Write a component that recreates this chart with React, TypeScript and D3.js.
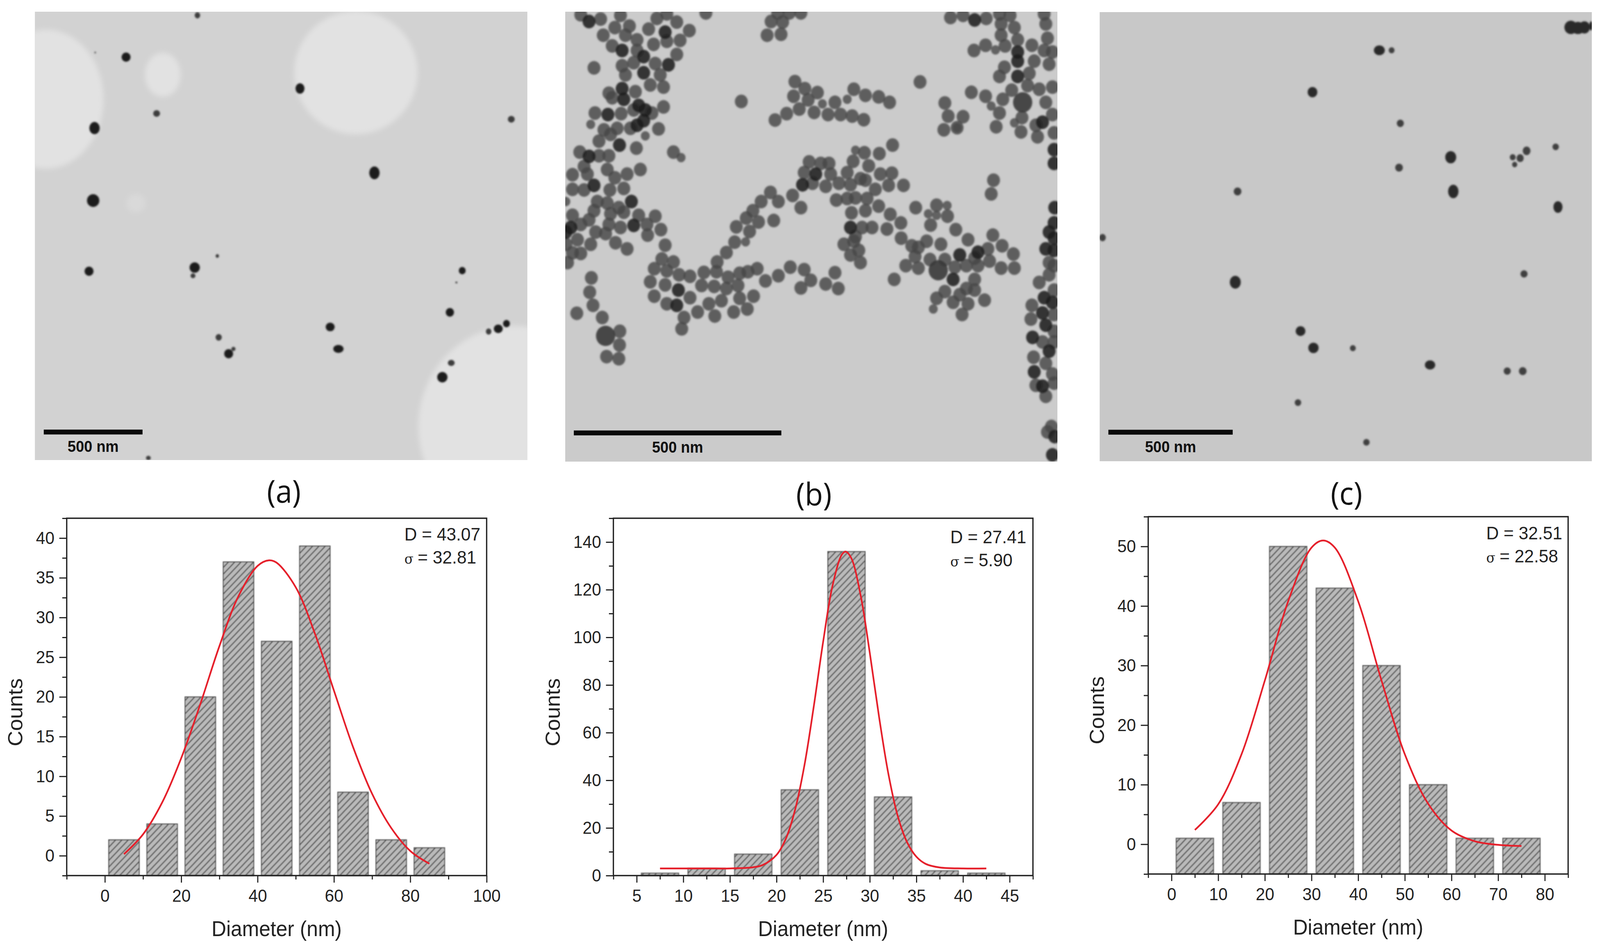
import React, { useRef, useEffect } from 'react';
import * as d3 from 'd3';

// histogram values
const centersA = [5, 15, 25, 35, 45, 55, 65, 75, 85];
const countsA = [2, 4, 20, 37, 27, 39, 8, 2, 1];
const centersB = [7.5, 12.5, 17.5, 22.5, 27.5, 32.5, 37.5, 42.5];
const countsB = [1, 3, 9, 36, 136, 33, 2, 1];
const centersC = [5, 15, 25, 35, 45, 55, 65, 75];
const countsC = [1, 7, 50, 43, 30, 10, 1, 1];

// red fit curves
const fitXA = [5, 10, 15, 20, 25, 30, 35, 40, 43, 45, 50, 55, 60, 65, 70, 75, 80, 85];
const fitYA = [0.2, 2.7, 6.7, 12.3, 19.1, 26.4, 32.7, 36.5, 37.2, 36.9, 33.8, 28, 20.8, 13.7, 7.8, 3.5, 0.6, -1];
const fitXB = [7.5, 10, 12.5, 15, 17.5, 18.5, 20, 21, 22, 23, 24, 25, 26, 27, 27.4, 28, 29, 30, 31, 32, 33, 34, 35, 36, 37.5, 40, 42.5];
const fitYB = [3, 3, 3, 3, 3.5, 4.4, 8.7, 15.5, 27.8, 46.5, 71.2, 98.2, 121.6, 134.7, 136, 133.4, 118, 93.5, 66.5, 42.6, 25, 14, 7.9, 4.9, 3.4, 3, 3];
const fitXC = [5, 10, 15, 20, 25, 30, 32.5, 35, 40, 45, 50, 55, 60, 65, 70, 75];
const fitYC = [2.4, 6.7, 15.1, 27.5, 40.8, 49.8, 51, 49.8, 40.8, 27.5, 15.1, 6.8, 2.3, 0.5, -0.1, -0.3];

const xTicksA = [0, 20, 40, 60, 80, 100];
const xMinorA = [-10, 10, 30, 50, 70, 90];
const yTicksA = [0, 5, 10, 15, 20, 25, 30, 35, 40];
const yMinorA = [-2.5, 2.5, 7.5, 12.5, 17.5, 22.5, 27.5, 32.5, 37.5, 42.5];
const xTicksB = [5, 10, 15, 20, 25, 30, 35, 40, 45];
const xMinorB = [2.5, 7.5, 12.5, 17.5, 22.5, 27.5, 32.5, 37.5, 42.5, 47.5];
const yTicksB = [0, 20, 40, 60, 80, 100, 120, 140];
const yMinorB = [10, 30, 50, 70, 90, 110, 130, 150];
const xTicksC = [0, 10, 20, 30, 40, 50, 60, 70, 80];
const xMinorC = [-5, 5, 15, 25, 35, 45, 55, 65, 75, 85];
const yTicksC = [0, 10, 20, 30, 40, 50];
const yMinorC = [-5, 5, 15, 25, 35, 45, 55];

const statsA = ['D = 43.07', '= 32.81'];
const statsB = ['D = 27.41', '= 5.90'];
const statsC = ['D = 32.51', '= 22.58'];

// micrograph (a): film holes [cx, cy, rx, ry, tone] and particles [x, y, rx, ry]
const holesA = [
  [135, 325, 167, 228, '#e2e2e2'], [475, 245, 52, 72, '#e2e2e2'], [1038, 238, 180, 202, '#e2e2e2'],
  [1500, 1400, 280, 330, '#e2e2e2'], [397, 667, 28, 30, '#d9d9d9'],
];
const particlesA = [
  [576, 50, 8, 10], [368, 187, 13, 15], [278, 172, 2, 3], [875, 290, 13, 17], [457, 372, 10, 11], [276, 420, 15, 20],
  [1491, 391, 10, 11], [1092, 567, 15, 21], [272, 658, 18, 21], [260, 890, 13, 15], [568, 878, 15, 17], [563, 905, 7, 8],
  [634, 840, 5, 6], [1348, 888, 10, 12], [1331, 927, 3, 3], [1312, 1025, 12, 14], [963, 1073, 13, 14], [638, 1107, 9, 11],
  [681, 1145, 6, 7], [667, 1161, 13, 15], [987, 1145, 15, 13], [1425, 1088, 8, 10], [1453, 1079, 13, 14], [1477, 1062, 10, 12],
  [1316, 1191, 10, 10], [1290, 1238, 15, 17], [433, 1503, 7, 7],
];

// micrograph (c): particles [x, y, rx, ry]
const particlesC = [
  [1478, 90, 20, 22], [1500, 92, 20, 20], [1520, 90, 17, 20], [1541, 85, 6, 15], [885, 165, 17, 16], [923, 165, 9, 10],
  [678, 302, 15, 17], [950, 404, 11, 12], [946, 549, 12, 13], [1106, 515, 17, 20], [1341, 494, 12, 14], [1321, 518, 11, 13],
  [1298, 515, 9, 10], [1304, 539, 8, 9], [1431, 481, 10, 11], [446, 627, 12, 13], [1114, 627, 16, 22], [1438, 678, 14, 19],
  [28, 778, 10, 12], [439, 924, 17, 21], [1333, 897, 11, 12], [641, 1084, 15, 16], [681, 1139, 16, 17], [803, 1140, 9, 10],
  [1042, 1195, 16, 15], [1281, 1215, 11, 12], [1329, 1215, 12, 13], [633, 1318, 10, 11], [845, 1448, 10, 11],
];

// micrograph (b): particle centres, split by how they look
const plainB = [
  [75, 48], [135, 62], [195, 50], [178, 90], [222, 85], [143, 115], [210, 115], [170, 150], [245, 130], [295, 145], [280, 95], [305, 60], [335, 45], [365, 72], [403, 100], [335, 135], [375, 132], [365, 178], [300, 208], [235, 205], [315, 245], [285, 278], [325, 285], [200, 215], [210, 245], [115, 222], [453, 42], [245, 165],
  [160, 305], [240, 300], [170, 320], [235, 360], [290, 370], [325, 350], [118, 370], [197, 372], [145, 425], [185, 420], [310, 422], [225, 420], [130, 462], [165, 440], [243, 485], [355, 498],
  [72, 498], [130, 510], [160, 510], [85, 545], [155, 555], [255, 555], [215, 570], [50, 572], [95, 570], [178, 582], [50, 620], [85, 622], [163, 622], [205, 617], [125, 660], [155, 665], [190, 680], [115, 690], [165, 700], [205, 695], [50, 705], [250, 705], [300, 708], [275, 735], [195, 745], [160, 735], [100, 720], [75, 735], [120, 760], [150, 765], [65, 785], [105, 800], [180, 795], [215, 815], [277, 770], [317, 752], [330, 803], [30, 800], [50, 828], [75, 830], [35, 860],
  [107, 910], [102, 957], [112, 1000], [63, 1026], [140, 1040], [193, 1085], [192, 1130], [153, 1168], [190, 1175],
  [650, 70], [685, 72], [638, 115], [680, 112], [670, 42], [740, 42], [705, 42],
  [722, 267], [718, 315], [752, 290], [790, 303], [762, 327], [735, 357], [697, 372], [662, 393], [780, 368], [843, 335], [900, 292], [935, 312], [975, 317], [1008, 335], [822, 375], [860, 375], [895, 380], [930, 392], [1100, 268], [560, 332],
  [1017, 475], [977, 503], [932, 500], [898, 528], [945, 543], [765, 530], [800, 535], [825, 535], [750, 565], [830, 570], [855, 600], [880, 565], [920, 585], [980, 570], [1015, 567], [775, 600], [815, 610], [890, 605], [935, 590], [1005, 607], [1050, 607], [965, 620], [847, 655], [880, 650], [905, 648], [940, 650], [715, 640], [740, 680], [648, 630], [620, 660], [672, 660], [595, 690], [975, 675], [893, 697], [935, 690], [1010, 702], [1042, 730], [575, 714], [612, 727], [658, 722], [545, 743], [585, 758], [540, 793], [515, 827], [925, 745], [955, 745], [1000, 750], [905, 775], [870, 800], [900, 790], [1043, 780], [890, 835], [920, 860], [915, 820],
  [1087, 680], [1150, 672], [1183, 708], [1132, 737], [1208, 752], [1245, 785], [1320, 770], [1120, 790], [1075, 805], [1095, 810], [1163, 800], [1305, 815], [1348, 805], [1382, 832], [1085, 840], [1130, 850], [1175, 850], [1265, 845], [1310, 855], [1057, 870], [1095, 878], [1205, 875], [1240, 870], [1275, 870], [1345, 878], [1385, 878], [1022, 915], [1265, 915], [1175, 955], [1240, 945], [1265, 950], [1150, 977], [1220, 965], [1295, 983], [1200, 990], [1245, 995], [1227, 1030],
  [320, 848], [355, 858], [297, 880], [335, 887], [285, 923], [330, 933], [372, 900], [405, 905], [447, 892], [487, 858], [485, 890], [520, 908], [555, 895], [580, 890], [608, 880], [633, 920], [672, 903], [708, 875], [750, 883], [843, 893], [770, 918], [815, 930], [740, 943], [853, 945], [297, 970], [335, 995], [405, 975], [440, 935], [478, 938], [515, 945], [550, 935], [597, 970], [555, 977], [462, 995], [500, 985], [428, 1022], [480, 1035], [537, 1022], [578, 1012], [387, 1040], [380, 1077],
  [1192, 57], [1230, 50], [1300, 60], [1340, 45], [1372, 50], [1345, 78], [1385, 90], [1345, 115], [1298, 148], [1263, 165], [1357, 150], [1395, 130], [1438, 148], [1480, 78], [1485, 125], [1475, 45], [1475, 165], [1500, 170], [1355, 220], [1445, 200], [1340, 250], [1490, 210], [1430, 240], [1377, 295], [1425, 280], [1460, 292], [1500, 285], [1255, 302], [1298, 315], [1350, 325], [1480, 335], [1340, 370], [1175, 337], [1185, 380], [1230, 382], [1172, 425], [1212, 418], [1330, 415], [1408, 385], [1405, 432], [1450, 410], [1455, 448], [1500, 375], [1505, 435],
  [1322, 590], [1315, 635], [1490, 860], [1505, 870], [1460, 925], [1490, 900], [1505, 950], [1438, 1000], [1505, 1030], [1435, 1045], [1505, 1085], [1470, 1120], [1505, 1120], [1443, 1170], [1480, 1190], [1500, 1225], [1450, 1262], [1505, 1255], [1480, 1298], [1497, 1397], [1485, 1415],
];
const darkB = [
  [100, 70], [200, 165], [265, 185], [330, 105], [340, 212], [265, 238], [200, 290], [205, 325], [250, 345], [270, 360], [157, 375], [245, 410], [265, 395], [192, 475],
  [100, 512], [115, 607], [228, 660], [235, 738], [45, 745], [30, 760],
  [785, 570], [745, 605], [890, 745], [1220, 835], [1275, 826], [1200, 915], [370, 950], [365, 1000], [1265, 65], [1395, 170], [1395, 200], [1395, 250], [1470, 400],
  [1505, 490], [1505, 535], [1507, 680], [1505, 730], [1490, 760], [1505, 780], [1480, 815], [1505, 820], [1475, 975], [1500, 990], [1470, 1025], [1480, 1065], [1440, 1105], [1490, 1150], [1445, 1218], [1470, 1265], [1507, 1430], [1500, 1490],
];
const smallB = [
  [105, 407], [270, 445], [378, 516], [30, 660], [573, 792], [805, 340], [880, 325], [905, 492], [1182, 673], [1125, 700], [1150, 705], [1140, 1012], [1328, 163], [1315, 347], [1212, 418], [1385, 402],
];
const bigB = [[150, 1100], [1155, 885], [1410, 335]];

const FONT = '"Liberation Sans", Arial, sans-serif';
const INK = '#222222';
const PAGE_W = 4317;
const PAGE_H = 2430;

type Num = number[];

interface PlotSpec {
  label: string; labelX: number; labelY: number;
  left: number; right: number; top: number; bottom: number;
  xDomain: [number, number]; yDomain: [number, number];
  centers: Num; counts: Num; binWidth: number;
  fitX: Num; fitY: Num;
  xTicks: Num; xMinor: Num; yTicks: Num; yMinor: Num;
  stats: string[]; statsX: number; statsY: number;
  countsX: number; countsY: number;
}

const plots: PlotSpec[] = [
  { label: '(a)', labelX: 766, labelY: 1287, left: 180, right: 1313, top: 1327, bottom: 2242, xDomain: [-10, 100], yDomain: [-2.5, 42.5], centers: centersA, counts: countsA, binWidth: 8, fitX: fitXA, fitY: fitYA, xTicks: xTicksA, xMinor: xMinorA, yTicks: yTicksA, yMinor: yMinorA, stats: statsA, statsX: 1091, statsY: 1384, countsX: 60, countsY: 1824 },
  { label: '(b)', labelX: 2196, labelY: 1294, left: 1655, right: 2787, top: 1327, bottom: 2242, xDomain: [2.5, 47.5], yDomain: [0, 150], centers: centersB, counts: countsB, binWidth: 4, fitX: fitXB, fitY: fitYB, xTicks: xTicksB, xMinor: xMinorB, yTicks: yTicksB, yMinor: yMinorB, stats: statsB, statsX: 2564, statsY: 1391, countsX: 1510, countsY: 1824 },
  { label: '(c)', labelX: 3633, labelY: 1292, left: 3098, right: 4231, top: 1323, bottom: 2238, xDomain: [-5, 85], yDomain: [-5, 55], centers: centersC, counts: countsC, binWidth: 8, fitX: fitXC, fitY: fitYC, xTicks: xTicksC, xMinor: xMinorC, yTicks: yTicksC, yMinor: yMinorC, stats: statsC, statsX: 4010, statsY: 1381, countsX: 2978, countsY: 1819 },
];

function drawPlot(svg: any, p: PlotSpec) {
  const x = d3.scaleLinear().domain(p.xDomain).range([p.left, p.right]);
  const y = d3.scaleLinear().domain(p.yDomain).range([p.bottom, p.top]);
  const g = svg.append('g');

  // bars
  g.append('g')
    .attr('filter', 'url(#softBar)')
    .selectAll('rect')
    .data(p.centers)
    .join('rect')
    .attr('x', (c: number) => x(c - p.binWidth / 2))
    .attr('width', (c: number) => x(c + p.binWidth / 2) - x(c - p.binWidth / 2))
    .attr('y', (_: number, i: number) => y(p.counts[i]))
    .attr('height', (_: number, i: number) => y(p.yDomain[0]) - y(p.counts[i]))
    .attr('fill', 'url(#hatch)')
    .attr('stroke', '#555555')
    .attr('stroke-width', 2.5);

  // frame
  g.append('rect')
    .attr('x', p.left).attr('y', p.top)
    .attr('width', p.right - p.left).attr('height', p.bottom - p.top)
    .attr('fill', 'none').attr('stroke', INK).attr('stroke-width', 3.5);

  // axes
  const styleAxis = (a: any) => {
    a.select('.domain').remove();
    a.selectAll('line').attr('stroke', INK).attr('stroke-width', 3);
    a.selectAll('text').attr('fill', INK).style('font-family', FONT).style('font-size', '45px');
  };
  g.append('g').attr('transform', `translate(0,${p.bottom})`)
    .call(d3.axisBottom(x).tickValues(p.xTicks).tickSize(18).tickPadding(17).tickFormat(d3.format('d') as any))
    .call(styleAxis);
  g.append('g').attr('transform', `translate(0,${p.bottom})`)
    .call(d3.axisBottom(x).tickValues(p.xMinor).tickSize(10).tickFormat(() => ''))
    .call(styleAxis);
  g.append('g').attr('transform', `translate(${p.left},0)`)
    .call(d3.axisLeft(y).tickValues(p.yTicks).tickSize(20).tickPadding(13).tickFormat(d3.format('d') as any))
    .call(styleAxis);
  g.append('g').attr('transform', `translate(${p.left},0)`)
    .call(d3.axisLeft(y).tickValues(p.yMinor).tickSize(12).tickFormat(() => ''))
    .call(styleAxis);

  // fit
  const fit = d3.line<number>()
    .x(d => x(d))
    .y((_, i) => y(p.fitY[i]))
    .curve(d3.curveCatmullRom);
  g.append('path')
    .attr('d', fit(p.fitX))
    .attr('fill', 'none')
    .attr('stroke', '#e5202b')
    .attr('stroke-width', 4.5);

  // text
  g.append('text')
    .attr('x', (p.left + p.right) / 2).attr('y', p.bottom + 155)
    .attr('text-anchor', 'middle')
    .attr('fill', INK).style('font-family', FONT).style('font-size', '55px')
    .text('Diameter (nm)');
  g.append('text')
    .attr('transform', `translate(${p.countsX},${p.countsY}) rotate(-90)`)
    .attr('text-anchor', 'middle')
    .attr('fill', INK).style('font-family', FONT).style('font-size', '55px')
    .text('Counts');
  g.append('text')
    .attr('x', p.labelX).attr('y', p.labelY)
    .attr('text-anchor', 'middle')
    .attr('fill', '#111111').style('font-family', '"Open Sans", sans-serif').style('font-size', '80px')
    .text(p.label);

  g.append('text')
    .attr('x', p.statsX).attr('y', p.statsY)
    .attr('fill', INK).style('font-family', FONT).style('font-size', '47px')
    .text(p.stats[0]);
  const sigma = g.append('text')
    .attr('x', p.statsX).attr('y', p.statsY + 59)
    .attr('fill', INK).style('font-family', FONT).style('font-size', '47px');
  sigma.append('tspan').style('font-family', '"DejaVu Serif", serif').style('font-size', '36px').text('σ ');
  sigma.append('tspan').text(p.stats[1]);
}

function drawMicrograph(svg: any, id: string, frame: number[], domain: number[], bg: string) {
  const [fx0, fy0, fx1, fy1] = frame;
  const [dx0, dy0, dx1, dy1] = domain;
  const sx = d3.scaleLinear().domain([dx0, dx1]).range([fx0, fx1]);
  const sy = d3.scaleLinear().domain([dy0, dy1]).range([fy0, fy1]);
  svg.append('clipPath').attr('id', id)
    .append('rect').attr('x', fx0).attr('y', fy0).attr('width', fx1 - fx0).attr('height', fy1 - fy0);
  const g = svg.append('g').attr('clip-path', `url(#${id})`);
  g.append('rect').attr('x', fx0).attr('y', fy0).attr('width', fx1 - fx0).attr('height', fy1 - fy0).attr('fill', bg);
  const kx = (fx1 - fx0) / (dx1 - dx0);
  const ky = (fy1 - fy0) / (dy1 - dy0);
  return { g, sx, sy, kx, ky };
}

function drawScaleBar(m: any, x0: number, x1: number, y0: number, y1: number, baseline: number) {
  m.g.append('rect')
    .attr('x', m.sx(x0)).attr('y', m.sy(y0))
    .attr('width', m.sx(x1) - m.sx(x0)).attr('height', m.sy(y1) - m.sy(y0))
    .attr('fill', '#0a0a0a');
  m.g.append('text')
    .attr('x', m.sx((x0 + x1) / 2)).attr('y', m.sy(baseline))
    .attr('text-anchor', 'middle')
    .attr('fill', '#111111').style('font-family', FONT).style('font-weight', 700).style('font-size', '40px')
    .text('500 nm');
}

const App: React.FC = () => {
  const ref = useRef<SVGSVGElement | null>(null);

  useEffect(() => {
    if (!ref.current) return;
    const svg = d3.select(ref.current);
    svg.selectAll('*').remove();

    const defs = svg.append('defs');
    const hatch = defs.append('pattern')
      .attr('id', 'hatch').attr('patternUnits', 'userSpaceOnUse')
      .attr('width', 12).attr('height', 12)
      .attr('patternTransform', 'rotate(-45)');
    hatch.append('rect').attr('width', 12).attr('height', 12).attr('fill', '#bababa');
    hatch.append('rect').attr('width', 12).attr('height', 3).attr('fill', '#565656');
    defs.append('filter').attr('id', 'softBar').append('feGaussianBlur').attr('stdDeviation', 0.9);
    defs.append('filter').attr('id', 'softDot').append('feGaussianBlur').attr('stdDeviation', 2);
    defs.append('filter').attr('id', 'softHole').append('feGaussianBlur').attr('stdDeviation', 7);

    // panel (a)
    const a = drawMicrograph(svg, 'clipA', [94, 30, 1423, 1178], [102, 38, 1538, 1510], '#d2d2d2');
    a.g.append('g').attr('filter', 'url(#softHole)')
      .selectAll('ellipse').data(holesA).join('ellipse')
      .attr('cx', (d: any) => a.sx(d[0])).attr('cy', (d: any) => a.sy(d[1]))
      .attr('rx', (d: any) => d[2] * a.kx).attr('ry', (d: any) => d[3] * a.ky)
      .attr('fill', (d: any) => d[4]);
    a.g.append('g').attr('filter', 'url(#softDot)')
      .selectAll('ellipse').data(particlesA).join('ellipse')
      .attr('cx', (d: any) => a.sx(d[0])).attr('cy', (d: any) => a.sy(d[1]))
      .attr('rx', (d: any) => d[2] * a.kx).attr('ry', (d: any) => d[3] * a.ky)
      .attr('fill', (d: any) => (d[3] < 12 ? '#3c3c3c' : '#1c1c1c'));
    drawScaleBar(a, 128, 416, 1410, 1426, 1483);

    // panel (b)
    const b = drawMicrograph(svg, 'clipB', [1525, 30, 2853, 1182], [28, 38, 1515, 1512], '#cbcbcb');
    const dots = b.g.append('g').attr('filter', 'url(#softDot)');
    const addDots = (pts: number[][], r: number, fill: string, opacity: number) => {
      dots.append('g').selectAll('circle').data(pts).join('circle')
        .attr('cx', (d: any) => b.sx(d[0])).attr('cy', (d: any) => b.sy(d[1]))
        .attr('r', r).attr('fill', fill).attr('fill-opacity', opacity);
    };
    addDots(smallB, 12, '#505050', 0.85);
    addDots(plainB, 17.5, '#454545', 0.82);
    addDots(bigB, 26, '#363636', 0.88);
    addDots(darkB, 17.5, '#1c1c1c', 0.88);
    drawScaleBar(b, 54, 681, 1410, 1426, 1483);

    // panel (c)
    const c = drawMicrograph(svg, 'clipC', [2967, 31, 4295, 1181], [19, 40, 1543, 1510], '#c8c8c8');
    c.g.append('g').attr('filter', 'url(#softDot)')
      .selectAll('ellipse').data(particlesC).join('ellipse')
      .attr('cx', (d: any) => c.sx(d[0])).attr('cy', (d: any) => c.sy(d[1]))
      .attr('rx', (d: any) => d[2] * c.kx).attr('ry', (d: any) => d[3] * c.ky)
      .attr('fill', (d: any) => (d[3] < 15 ? '#404040' : '#2a2a2a'));
    drawScaleBar(c, 46, 431, 1407, 1423, 1481);

    plots.forEach(p => drawPlot(svg, p));
  }, []);

  // the window can come up narrower than asked, so the drawing is fitted to it
  return (
    <svg
      ref={ref}
      viewBox={`0 0 ${PAGE_W} ${PAGE_H}`}
      preserveAspectRatio="none"
      style={{ position: 'fixed', left: 0, top: 0, width: '100vw', height: '100vh', background: '#ffffff' }}
    />
  );
};

export default App;
